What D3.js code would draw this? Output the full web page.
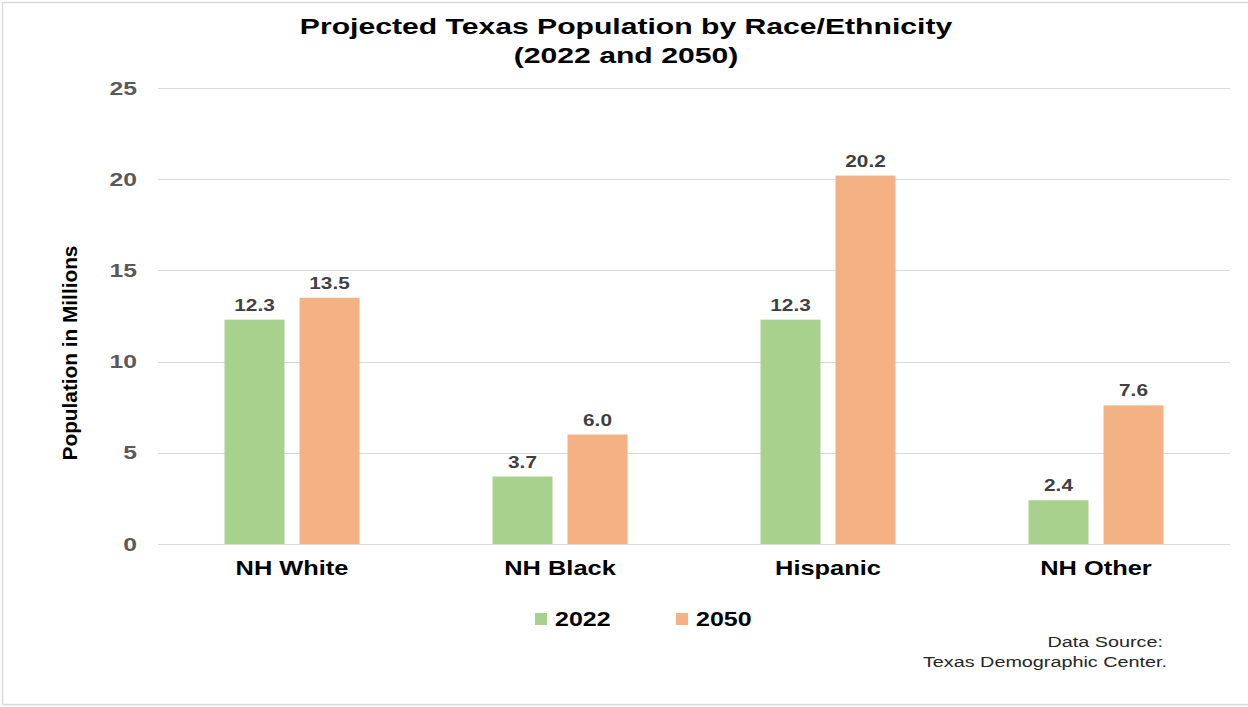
<!DOCTYPE html>
<html>
<head>
<meta charset="utf-8">
<script src="https://cdn.jsdelivr.net/npm/d3@7"></script>
<style>
  html, body { margin: 0; padding: 0; background: #fff; }
  svg { display: block; font-family: "Liberation Sans", Arial, sans-serif; }
</style>
</head>
<body>
<svg id="chart" width="1248" height="707"></svg>
<script>
// Projected Texas population by race/ethnicity, in millions
const categories = ["NH White", "NH Black", "Hispanic", "NH Other"];
const years = ["2022", "2050"];
const values2022 = [12.3, 3.7, 12.3, 2.4];
const values2050 = [13.5, 6.0, 20.2, 7.6];
const yTicks = [0, 5, 10, 15, 20, 25];
const colors = ["#A9D18E", "#F4B183"];

const series = [values2022, values2050];

const svg = d3.select("#chart");
const W = 1248, H = 707;

// Text in this chart uses a wide letterform: glyphs are widened horizontally.
function widen(sel, sx, x, y) {
  sel.attr("transform", `translate(${x},${y}) scale(${sx},1)`).attr("x", 0).attr("y", 0);
}

// outer frame
svg.append("path")
  .attr("d", `M2.5,${H - 2.5} V2.5 H${W}`)
  .attr("fill", "none").attr("stroke", "#d9d9d9").attr("stroke-width", 1.5);
svg.append("line")
  .attr("x1", 2.5).attr("x2", W).attr("y1", H - 2.5).attr("y2", H - 2.5)
  .attr("stroke", "#d9d9d9").attr("stroke-width", 1.5);

const plot = { left: 158, right: 1230, top: 88, bottom: 544 };

const x = d3.scaleBand().domain(categories).range([plot.left, plot.right]);
const y = d3.scaleLinear().domain([0, 25]).range([plot.bottom, plot.top]);

const barW = 60, barGap = 15;
const xInner = d3.scaleOrdinal().domain(years)
  .range([-(barW + barGap / 2), barGap / 2]);

// gridlines
svg.append("g")
  .selectAll("line").data(yTicks).join("line")
  .attr("x1", plot.left).attr("x2", plot.right)
  .attr("y1", d => Math.round(y(d)) + 0.5).attr("y2", d => Math.round(y(d)) + 0.5)
  .attr("stroke", "#d9d9d9").attr("stroke-width", 1);

// y axis tick labels
const yAxis = d3.axisLeft(y).tickValues(yTicks).tickSize(0).tickPadding(0);
const gy = svg.append("g").attr("transform", `translate(${plot.left - 21},0)`).call(yAxis);
gy.select(".domain").remove();
gy.selectAll("text")
  .attr("font-family", "Liberation Sans, Arial, sans-serif")
  .attr("font-size", 19).attr("font-weight", "bold").attr("fill", "#595959")
  .attr("transform", "scale(1.3,1)").attr("x", 0);

// y axis title
svg.append("text")
  .attr("transform", `translate(77,353) rotate(-90) scale(1.04,1)`)
  .attr("text-anchor", "middle")
  .attr("font-size", 20).attr("font-weight", "bold").attr("fill", "#000")
  .text("Population in Millions");

// bars
const groups = svg.append("g").selectAll("g").data(categories).join("g")
  .attr("transform", d => `translate(${x(d) + x.bandwidth() / 2},0)`);

years.forEach((yr, si) => {
  groups.append("rect")
    .attr("x", xInner(yr))
    .attr("width", barW)
    .attr("y", (d, i) => y(series[si][i]))
    .attr("height", (d, i) => y(0) - y(series[si][i]))
    .attr("fill", colors[si]);
  groups.append("text")
    .attr("transform", (d, i) =>
      `translate(${xInner(yr) + barW / 2},${y(series[si][i]) - 9}) scale(1.3,1)`)
    .attr("text-anchor", "middle")
    .attr("font-size", 16).attr("font-weight", "bold").attr("fill", "#404040")
    .text((d, i) => series[si][i].toFixed(1));
});

// category axis
const xAxis = d3.axisBottom(x).tickSize(0).tickPadding(0);
const gx = svg.append("g").attr("transform", `translate(0,${plot.bottom + 31})`).call(xAxis);
gx.select(".domain").remove();
gx.selectAll("text")
  .attr("dy", 0).attr("y", 0)
  .attr("font-family", "Liberation Sans, Arial, sans-serif")
  .attr("font-size", 20).attr("font-weight", "bold").attr("fill", "#000")
  .attr("transform", "scale(1.27,1)");

// title
const titleLines = ["Projected Texas Population by Race/Ethnicity", "(2022 and 2050)"];
svg.append("g").selectAll("text").data(titleLines).join("text")
  .attr("text-anchor", "middle")
  .attr("font-size", 22).attr("font-weight", "bold").attr("fill", "#000")
  .attr("transform", (d, i) => `translate(626,${34 + i * 29}) scale(1.37,1)`)
  .text(d => d);

// legend
const legendX = [535, 676];
const legend = svg.append("g").selectAll("g").data(years).join("g")
  .attr("transform", (d, i) => `translate(${legendX[i]},619)`);
legend.append("rect").attr("x", 0).attr("y", -6).attr("width", 12).attr("height", 12)
  .attr("fill", (d, i) => colors[i]);
legend.append("text")
  .attr("transform", "translate(20,7) scale(1.25,1)")
  .attr("font-size", 20).attr("font-weight", "bold").attr("fill", "#000")
  .text(d => d);

// source note
const noteLines = [["Data Source:", 1163, 647], ["Texas Demographic Center.", 1167, 667]];
svg.append("g").selectAll("text").data(noteLines).join("text")
  .attr("text-anchor", "end")
  .attr("font-size", 15).attr("fill", "#262626")
  .attr("transform", d => `translate(${d[1]},${d[2]}) scale(1.32,1)`)
  .text(d => d[0]);
</script>
</body>
</html>
